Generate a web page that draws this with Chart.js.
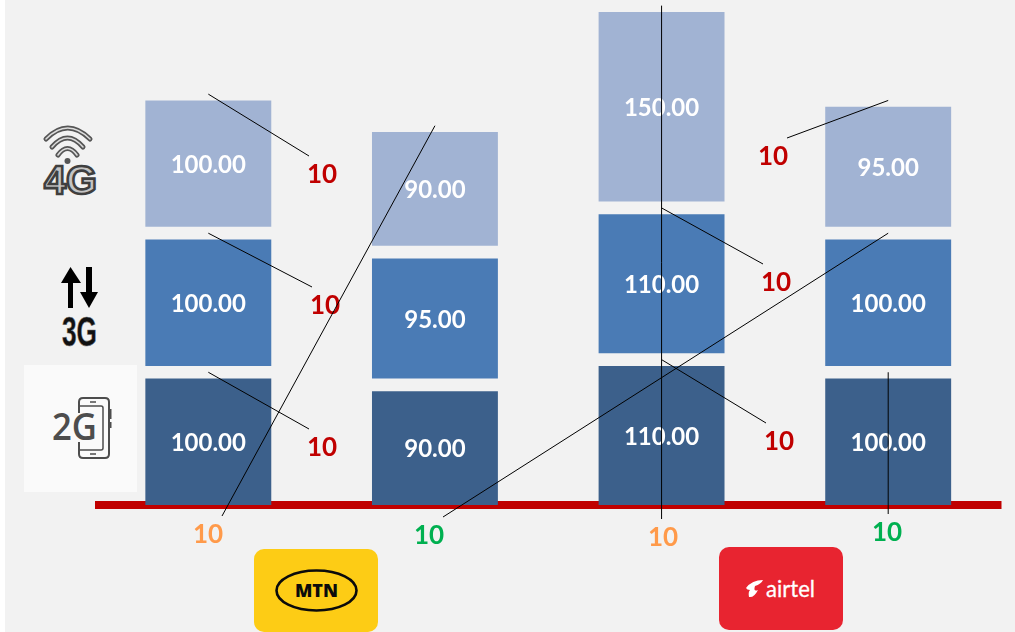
<!DOCTYPE html>
<html>
<head>
<meta charset="utf-8">
<script src="https://cdn.jsdelivr.net/npm/chart.js@4"></script>
<style>
html, body { margin: 0; padding: 0; background: #fff; overflow: hidden; }
#fundo { position: absolute; left: 5px; top: 0; width: 1010px; height: 632px; background: #f2f2f2; }
#tabela { position: absolute; left: 0; top: 0; }
#icones { position: absolute; left: 0; top: 0; }
</style>
</head>
<body>
<div id="fundo"></div>
<svg id="icones" width="1015" height="632" viewBox="0 0 1015 632">
  <!-- 4G -->
  <g fill="none" stroke-linecap="round">
    <g stroke="#555" stroke-width="5">
      <path d="M46 139 Q67.5 117 90 139"/>
      <path d="M52 147 Q67.5 129 83 147"/>
      <path d="M58 155 Q67.5 142 77 155"/>
    </g>
    <g stroke="#dcdcdc" stroke-width="1.6">
      <path d="M46 139 Q67.5 117 90 139"/>
      <path d="M52 147 Q67.5 129 83 147"/>
      <path d="M58 155 Q67.5 142 77 155"/>
    </g>
  </g>
  <circle cx="67.5" cy="161" r="3" fill="#555"/>
  <text x="44" y="194" font-family="Liberation Sans" font-weight="700" font-size="40" fill="#c4c4c4" stroke="#3f3f3f" stroke-width="2.6" textLength="53" lengthAdjust="spacingAndGlyphs">4G</text>
  <!-- 3G -->
  <path d="M68 308 V283 H61 L70.5 267 L81 283 H73 V308 Z" fill="#000"/>
  <path d="M86 267 V292 H80 L89 308 L98 292 H92 V267 Z" fill="#000"/>
  <text x="62" y="346" font-family="Liberation Sans Narrow, Liberation Sans" font-weight="700" font-size="43" fill="#111" stroke="#777" stroke-width="0.6" textLength="35" lengthAdjust="spacingAndGlyphs">3G</text>
  <!-- 2G -->
  <rect x="24" y="365" width="113" height="127" fill="#fafafa"/>
  <path d="M79 413 V402 Q79 398 83 398 H105 Q109 398 109 402 V454 Q109 458 105 458 H83 Q79 458 79 454 V442" fill="none" stroke="#4d4d4d" stroke-width="2"/>
  <path d="M79 406 H101 Q103 406 103 408 V448 Q103 450 101 450 H79" fill="none" stroke="#4d4d4d" stroke-width="1.5"/>
  <path d="M90 402 H96 M90 454 H96" stroke="#4d4d4d" stroke-width="1.5"/>
  <path d="M110.5 409 V419 M110.5 422 V428" stroke="#4d4d4d" stroke-width="2"/>
  <text x="52" y="440" font-family="Open Sans" font-weight="600" font-size="37" fill="#4d4d4d" textLength="45" lengthAdjust="spacingAndGlyphs">2G</text>
  <!-- MTN -->
  <rect x="254" y="549" width="124" height="83" rx="10" fill="#fdcc15"/>
  <ellipse cx="316.5" cy="590.5" rx="40" ry="20" fill="none" stroke="#0b0b0b" stroke-width="2.6"/>
  <text x="316.5" y="597" text-anchor="middle" font-family="Open Sans" font-weight="800" font-size="18" fill="#0b0b0b">MTN</text>
  <!-- airtel -->
  <rect x="719" y="547" width="124" height="83" rx="10" fill="#e82430"/>
  <path d="M746 588 Q752 580 763 580 Q761 584 755 586 Q753 592 758 590 Q754 598 749 597 Q748 592 750 590 Q747 590 746 588 Z" fill="#fff"/>
  <text x="766" y="597" font-family="Lato" font-weight="400" font-size="24" fill="#fff" stroke="#fff" stroke-width="0.3" textLength="49" lengthAdjust="spacingAndGlyphs">airtel</text>
</svg>
<canvas id="tabela" width="1015" height="632"></canvas>
<script>
const operadoras = ['MTN', 'MTN', 'Airtel', 'Airtel'];
const valores2G = [100, 90, 110, 100];
const valores3G = [100, 95, 110, 100];
const valores4G = [100, 90, 150, 95];
const intervaloA = [10, 10, 10, 10];
const intervaloB = [10, 10, 10, 10];
const intervaloC = [10, 10, 10, 10];

// where the "10" of each gap segment sits, with its leader line
const rotulosIntervalo = [
    { serie: 5, ponto: 0, x: 322, y: 174, cor: '#c00000' },
    { serie: 3, ponto: 0, x: 325, y: 305, cor: '#c00000' },
    { serie: 1, ponto: 0, x: 322, y: 447, cor: '#c00000' },
    { serie: 5, ponto: 1, x: 208, y: 534, cor: '#ff9a4a', fim: 14 },
    { serie: 5, ponto: 2, x: 663, y: 537, cor: '#ff9a4a' },
    { serie: 3, ponto: 2, x: 776, y: 282, cor: '#c00000' },
    { serie: 1, ponto: 2, x: 779, y: 441, cor: '#c00000' },
    { serie: 5, ponto: 3, x: 773, y: 156, cor: '#c00000', fim: 14 },
    { serie: 3, ponto: 3, x: 429, y: 535, cor: '#00b050', fim: 14 },
    { serie: 1, ponto: 3, x: 887, y: 532, cor: '#00b050' }
];

const eixoPlugin = {
    id: 'eixo',
    beforeDatasetsDraw(chart) {
        const x = chart.scales.x;
        const base = chart.scales.y.getPixelForValue(0);
        chart.ctx.fillStyle = '#c00000';
        chart.ctx.fillRect(x.left, base - 4, x.right - x.left, 8);
    }
};

const rotulosPlugin = {
    id: 'rotulos',
    afterDatasetsDraw(chart) {
        const ctx = chart.ctx;
        ctx.save();
        ctx.textAlign = 'center';
        ctx.textBaseline = 'middle';

        // white value inside every coloured segment
        ctx.font = '700 24px Lato';
        ctx.fillStyle = '#ffffff';
        [0, 2, 4].forEach(function (s) {
            chart.getDatasetMeta(s).data.forEach(function (barra, i) {
                const centro = barra.getCenterPoint();
                ctx.fillText(chart.data.datasets[s].data[i].toFixed(2), centro.x, centro.y + 1.5);
            });
        });

        // leader lines and "10" labels of the gap segments
        ctx.strokeStyle = '#000000';
        ctx.lineWidth = 1;
        ctx.font = '700 26px Lato';
        rotulosIntervalo.forEach(function (r) {
            const centro = chart.getDatasetMeta(r.serie).data[r.ponto].getCenterPoint();
            let dx = r.fim !== undefined ? r.fim : -13;
            if (Math.abs(r.x - centro.x) < 5) {
                dx = centro.x - r.x;
            }
            ctx.beginPath();
            ctx.moveTo(centro.x, centro.y);
            ctx.lineTo(r.x + dx, r.y - 18);
            ctx.stroke();
            ctx.fillStyle = r.cor;
            ctx.fillText(chart.data.datasets[r.serie].data[r.ponto], r.x, r.y + 1);
        });
        ctx.restore();
    }
};

new Chart(document.getElementById('tabela').getContext('2d'), {
    type: 'bar',
    data: {
        labels: operadoras,
        datasets: [
            { label: '2G', data: valores2G, backgroundColor: '#3c608b' },
            { label: 'a', data: intervaloA, backgroundColor: 'transparent' },
            { label: '3G', data: valores3G, backgroundColor: '#4a7bb5' },
            { label: 'b', data: intervaloB, backgroundColor: 'transparent' },
            { label: '4G', data: valores4G, backgroundColor: '#a1b3d3' },
            { label: 'c', data: intervaloC, backgroundColor: 'transparent' }
        ]
    },
    options: {
        responsive: false,
        animation: false,
        categoryPercentage: 1,
        barPercentage: 0.5556,
        layout: { padding: { left: 95, right: 13.5, top: 5, bottom: 127 } },
        plugins: { legend: { display: false }, tooltip: { enabled: false } },
        scales: {
            x: {
                stacked: true,
                ticks: { display: false },
                grid: { display: false, drawTicks: false },
                border: { display: false }
            },
            y: {
                stacked: true,
                display: false,
                min: 0,
                max: 395.5
            }
        }
    },
    plugins: [eixoPlugin, rotulosPlugin]
});
</script>
</body>
</html>
